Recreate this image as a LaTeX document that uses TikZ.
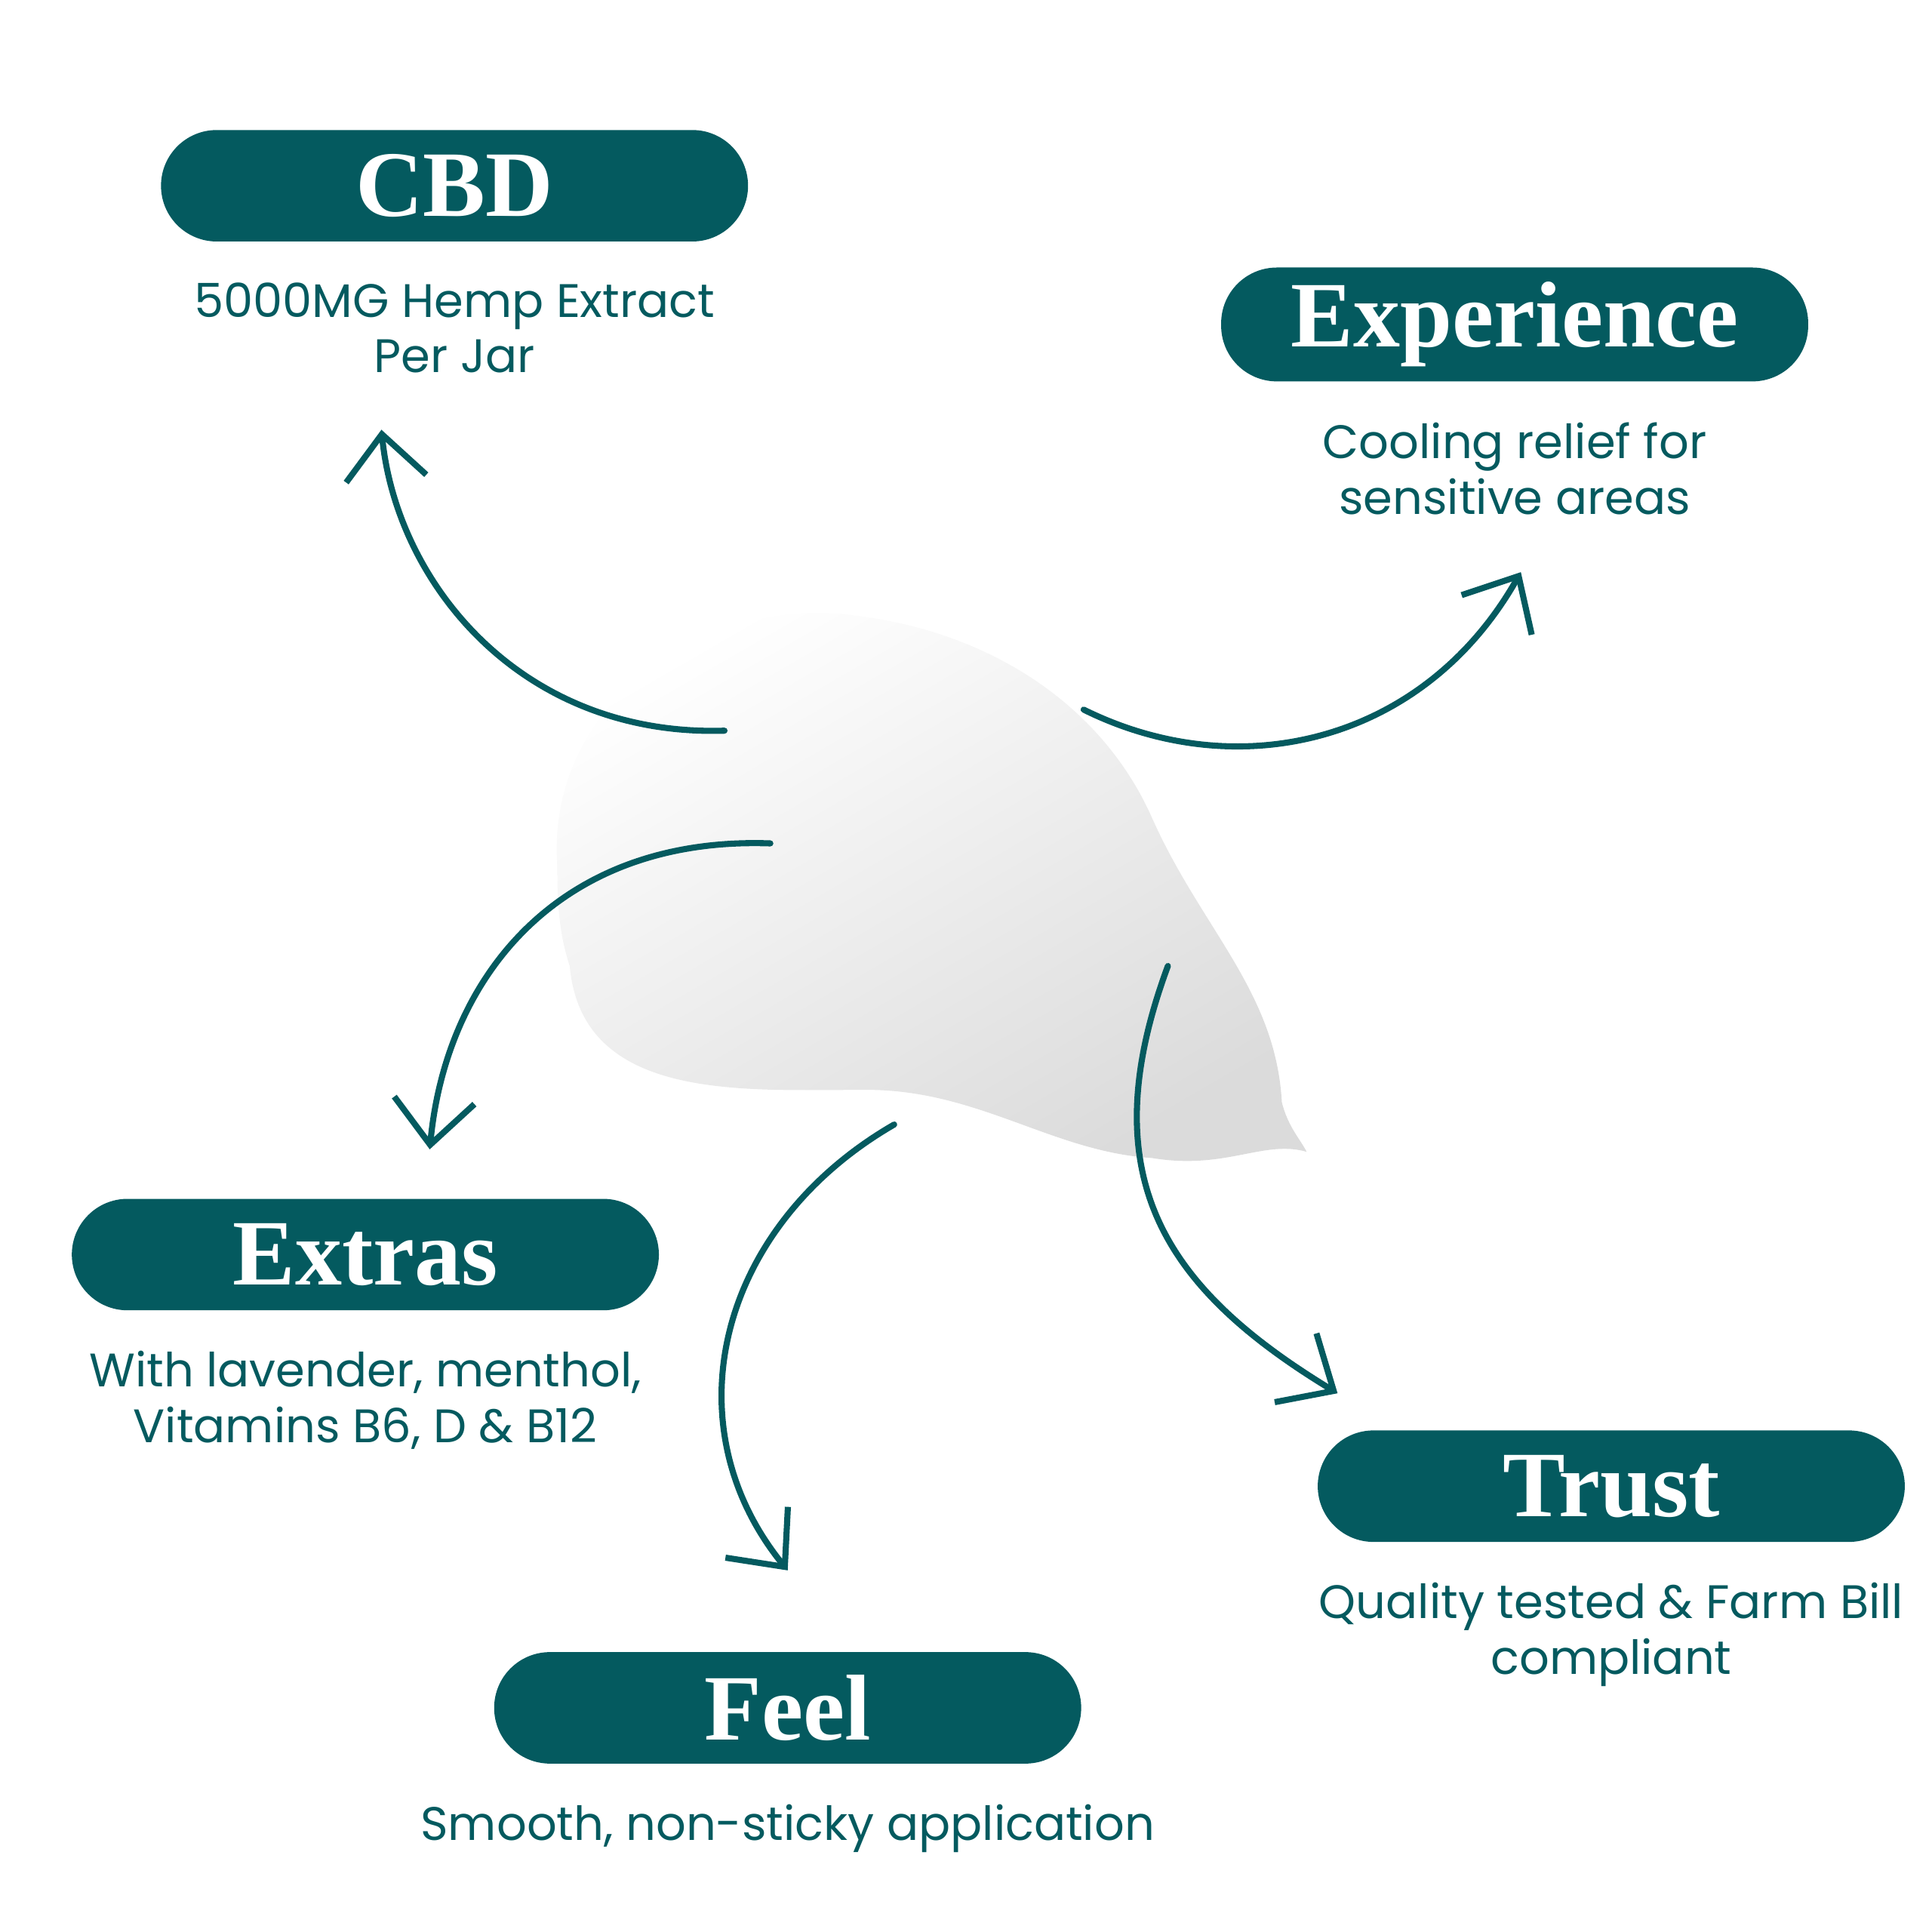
\documentclass[tikz,border=0pt]{standalone}
\usepackage{fontspec}
\setmainfont{Poppins}
\newfontfamily\titlefont{Liberation Serif}
\usetikzlibrary{arrows.meta}
\definecolor{teal}{HTML}{045A5F}
\tikzset{>={Straight Barb[length=3.6mm,width=6.5mm,line width=1.4pt]}}
\tikzset{pill/.style={fill=teal, text=white, rounded corners=0.45cm, minimum width=4.74cm, minimum height=0.9cm, font=\titlefont\bfseries\fontsize{21.5}{23}\selectfont}}
\tikzset{caption/.style={text=teal, align=center, font=\fontsize{10.8}{12.8}\selectfont}}
\tikzset{flow/.style={teal, line width=1.4pt, ->}}
\begin{document}
\begin{tikzpicture}[x=1cm, y=-1cm, line cap=round, line join=round]
	\useasboundingbox (0,0) rectangle (15.6,15.6);

	% Cream
	\shade[top color=white, bottom color=black!14, shading angle=30]
		(4.5,7.0) .. controls (4.4,5.6) and (5.8,4.8) .. (6.9,4.97)
		.. controls (8.0,5.1) and (8.9,5.7) .. (9.3,6.6)
		.. controls (9.7,7.5) and (10.3,8.0) .. (10.35,8.9)
		.. controls (10.4,9.1) and (10.5,9.2) .. (10.55,9.3)
		.. controls (10.2,9.2) and (9.9,9.45) .. (9.3,9.35)
		.. controls (8.5,9.3) and (7.9,8.8) .. (7.0,8.8)
		.. controls (6.0,8.8) and (4.7,8.9) .. (4.6,7.8)
		.. controls (4.5,7.5) and (4.5,7.2) .. (4.5,7.0) -- cycle;

	% Labels
	\node[pill] (cbd) at (3.67,1.50) {CBD};
	\node[caption, below=0.2cm] (cbdtext) at (cbd.south) {5000MG Hemp Extract\\Per Jar};
	\node[pill] (exp) at (12.23,2.62) {Experience};
	\node[caption, below=0.2cm] (exptext) at (exp.south) {Cooling relief for\\sensitive areas};
	\node[pill] (extras) at (2.95,10.13) {Extras};
	\node[caption, below=0.2cm] (extrastext) at (extras.south) {With lavender, menthol,\\Vitamins B6, D \& B12};
	\node[pill] (trust) at (13.01,12.00) {Trust};
	\node[caption, below=0.2cm] (trusttext) at (trust.south) {Quality tested \& Farm Bill\\compliant};
	\node[pill] (feel) at (6.36,13.79) {Feel};
	\node[caption, below=0.2cm] (feeltext) at (feel.south) {Smooth, non-sticky application};

	% Arrows
	\coordinate (c1) at (5.85,5.90);
	\coordinate (t1) at (3.08,3.47);
	\coordinate (c2) at (8.75,5.73);
	\coordinate (t2) at (12.28,4.62);
	\coordinate (c3) at (6.22,6.81);
	\coordinate (t3) at (3.47,9.28);
	\coordinate (c4) at (7.22,9.08);
	\coordinate (t4) at (6.36,12.68);
	\coordinate (c5) at (9.43,7.80);
	\coordinate (t5) at (10.80,11.25);
	\draw[flow] (c1) .. controls (4.2,5.95) and (3.2,4.7) .. (t1);
	\draw[flow] (c2) .. controls (10.0,6.35) and (11.5,6.0) .. (t2);
	\draw[flow] (c3) .. controls (4.5,6.75) and (3.6,7.9) .. (t3);
	\draw[flow] (c4) .. controls (5.8,9.9) and (5.4,11.5) .. (t4);
	\draw[flow] (c5) .. controls (8.8,9.5) and (9.4,10.4) .. (t5);
\end{tikzpicture}
\end{document}
